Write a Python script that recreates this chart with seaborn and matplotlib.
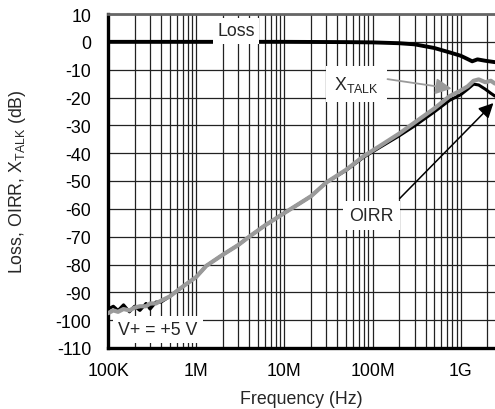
import numpy as np
import pandas as pd
import matplotlib
matplotlib.use("Agg")
import matplotlib.pyplot as plt
from matplotlib.ticker import FixedLocator, LogLocator, NullFormatter
import seaborn as sns

# --- values ---
freq_hz = [1e5, 1.15e5, 1.3e5, 1.5e5, 1.75e5, 2e5, 2.3e5, 2.7e5, 3e5, 3.5e5,
           4e5, 5e5, 7e5, 1e6, 1.3e6, 2e6, 3e6, 4e6, 6e6, 1e7, 1.5e7, 2e7,
           3e7, 5e7, 8e7, 1.2e8, 2e8, 3e8, 5e8, 7.5e8, 1e9, 1.2e9, 1.4e9,
           1.6e9, 1.9e9, 2.2e9, 2.45e9]
xtalk_db = [-97.5, -96.5, -97, -96, -96.5, -95.5, -95, -95, -94, -94,
            -93, -91.5, -88, -84.5, -80.5, -76.5, -73, -70, -66, -61.5, -58, -55.5,
            -50.5, -46, -41, -37.5, -33, -29, -24, -19.5, -17.5, -16, -14,
            -13.5, -14.5, -14, -15]
oirr_db = [-96, -95, -96.5, -94.5, -97, -95, -96.5, -94, -96, -93.5,
           -93.5, -91.5, -88, -84.5, -80.5, -76.5, -73, -70, -66, -61.5, -58, -55.5,
           -50.5, -46.2, -41.4, -38, -33.8, -30.2, -25.2, -21, -19, -17, -15.2,
           -15.5, -17, -18.5, -19.5]
loss_hz = [1e5, 1e6, 1e7, 5e7, 1e8, 2e8, 3e8, 5e8, 7.5e8, 1e9, 1.2e9,
           1.35e9, 1.55e9, 1.9e9, 2.45e9]
loss_db = [0, 0, 0, -0.1, -0.2, -0.5, -0.9, -2.2, -3.8, -5, -6.2,
           -7, -6.3, -6.8, -7.3]

x_ticks = [1e5, 1e6, 1e7, 1e8, 1e9]
x_tick_labels = ['100K', '1M', '10M', '100M', '1G']
y_ticks = list(range(10, -111, -10))

df = pd.DataFrame({'Frequency': freq_hz, 'OIRR': oirr_db, 'XTALK': xtalk_db})
loss_df = pd.DataFrame({'Frequency': loss_hz, 'Loss': loss_db})

sns.set_theme(style="white")
plt.rcParams['font.family'] = ['Liberation Sans', 'DejaVu Sans']
plt.rcParams['mathtext.default'] = 'regular'
plt.rcParams['axes.unicode_minus'] = False

fig = plt.figure(figsize=(4.95, 4.10), dpi=100)
ax = fig.add_axes([108 / 495, 1 - 349 / 410, 1 - 108 / 495, (349 - 15) / 410])

sns.lineplot(data=loss_df, x='Frequency', y='Loss', color='black', linewidth=2.8, ax=ax, zorder=3)
sns.lineplot(data=df, x='Frequency', y='OIRR', color='black', linewidth=2.2, ax=ax, zorder=3)
sns.lineplot(data=df, x='Frequency', y='XTALK', color='#9a9a9a', linewidth=3.0, ax=ax, zorder=4)

ax.set_xscale('log')
ax.set_xlim(1e5, 2.45e9)
ax.set_ylim(-110, 10)

ax.xaxis.set_major_locator(FixedLocator(x_ticks))
ax.set_xticklabels(x_tick_labels)
ax.xaxis.set_minor_locator(LogLocator(base=10, subs=np.arange(2, 10), numticks=20))
ax.xaxis.set_minor_formatter(NullFormatter())
ax.set_yticks(y_ticks)
ax.set_yticklabels([str(v) for v in y_ticks])

ax.grid(True, which='major', axis='both', color='#222222', linewidth=0.9)
ax.grid(True, which='minor', axis='x', color='#222222', linewidth=0.9)
ax.set_axisbelow(True)

ax.tick_params(axis='both', which='both', length=0, labelsize=12.8, colors='black')
ax.tick_params(axis='y', pad=12)
ax.tick_params(axis='x', pad=10)

ax.set_xlabel('Frequency (Hz)', fontsize=12.8, labelpad=8)
ax.set_ylabel('Loss, OIRR, X$_{TALK}$ (dB)', fontsize=12.8, labelpad=20)

for side in ['left', 'bottom']:
    ax.spines[side].set_color('black')
    ax.spines[side].set_linewidth(2.4)
ax.spines['top'].set_color('#666666')
ax.spines['top'].set_linewidth(2.0)
ax.spines['right'].set_visible(False)

box = dict(boxstyle='square,pad=0.25', facecolor='white', edgecolor='none')
ax.text(2.82e6, 3.9, 'Loss', fontsize=12.8, ha='center', va='center', bbox=box, zorder=5)
ax.text(6.6e7, -15.2, 'X$_{TALK}$', fontsize=12.8, ha='center', va='center',
        bbox=dict(boxstyle='square,pad=0.45', facecolor='white', edgecolor='none'), zorder=5)
ax.text(9.8e7, -62.3, 'OIRR', fontsize=12.8, ha='center', va='center',
        bbox=dict(boxstyle='square,pad=0.35', facecolor='white', edgecolor='none'), zorder=5)
ax.text(3.68e5, -103.3, 'V+ = +5 V', fontsize=12.8, ha='center', va='center',
        bbox=dict(boxstyle='square,pad=0.3', facecolor='white', edgecolor='none'), zorder=5)

ax.annotate('', xy=(7.9e8, -16.8), xytext=(1.48e8, -13.4),
            arrowprops=dict(arrowstyle='-|>', color='#9a9a9a', linewidth=1.3,
                            mutation_scale=24, shrinkA=0, shrinkB=0), zorder=6)
ax.annotate('', xy=(2.35e9, -22), xytext=(2.03e8, -56.3),
            arrowprops=dict(arrowstyle='-|>', color='black', linewidth=1.1,
                            mutation_scale=22, shrinkA=0, shrinkB=0), zorder=6)

fig.savefig('out.png', dpi=100)
